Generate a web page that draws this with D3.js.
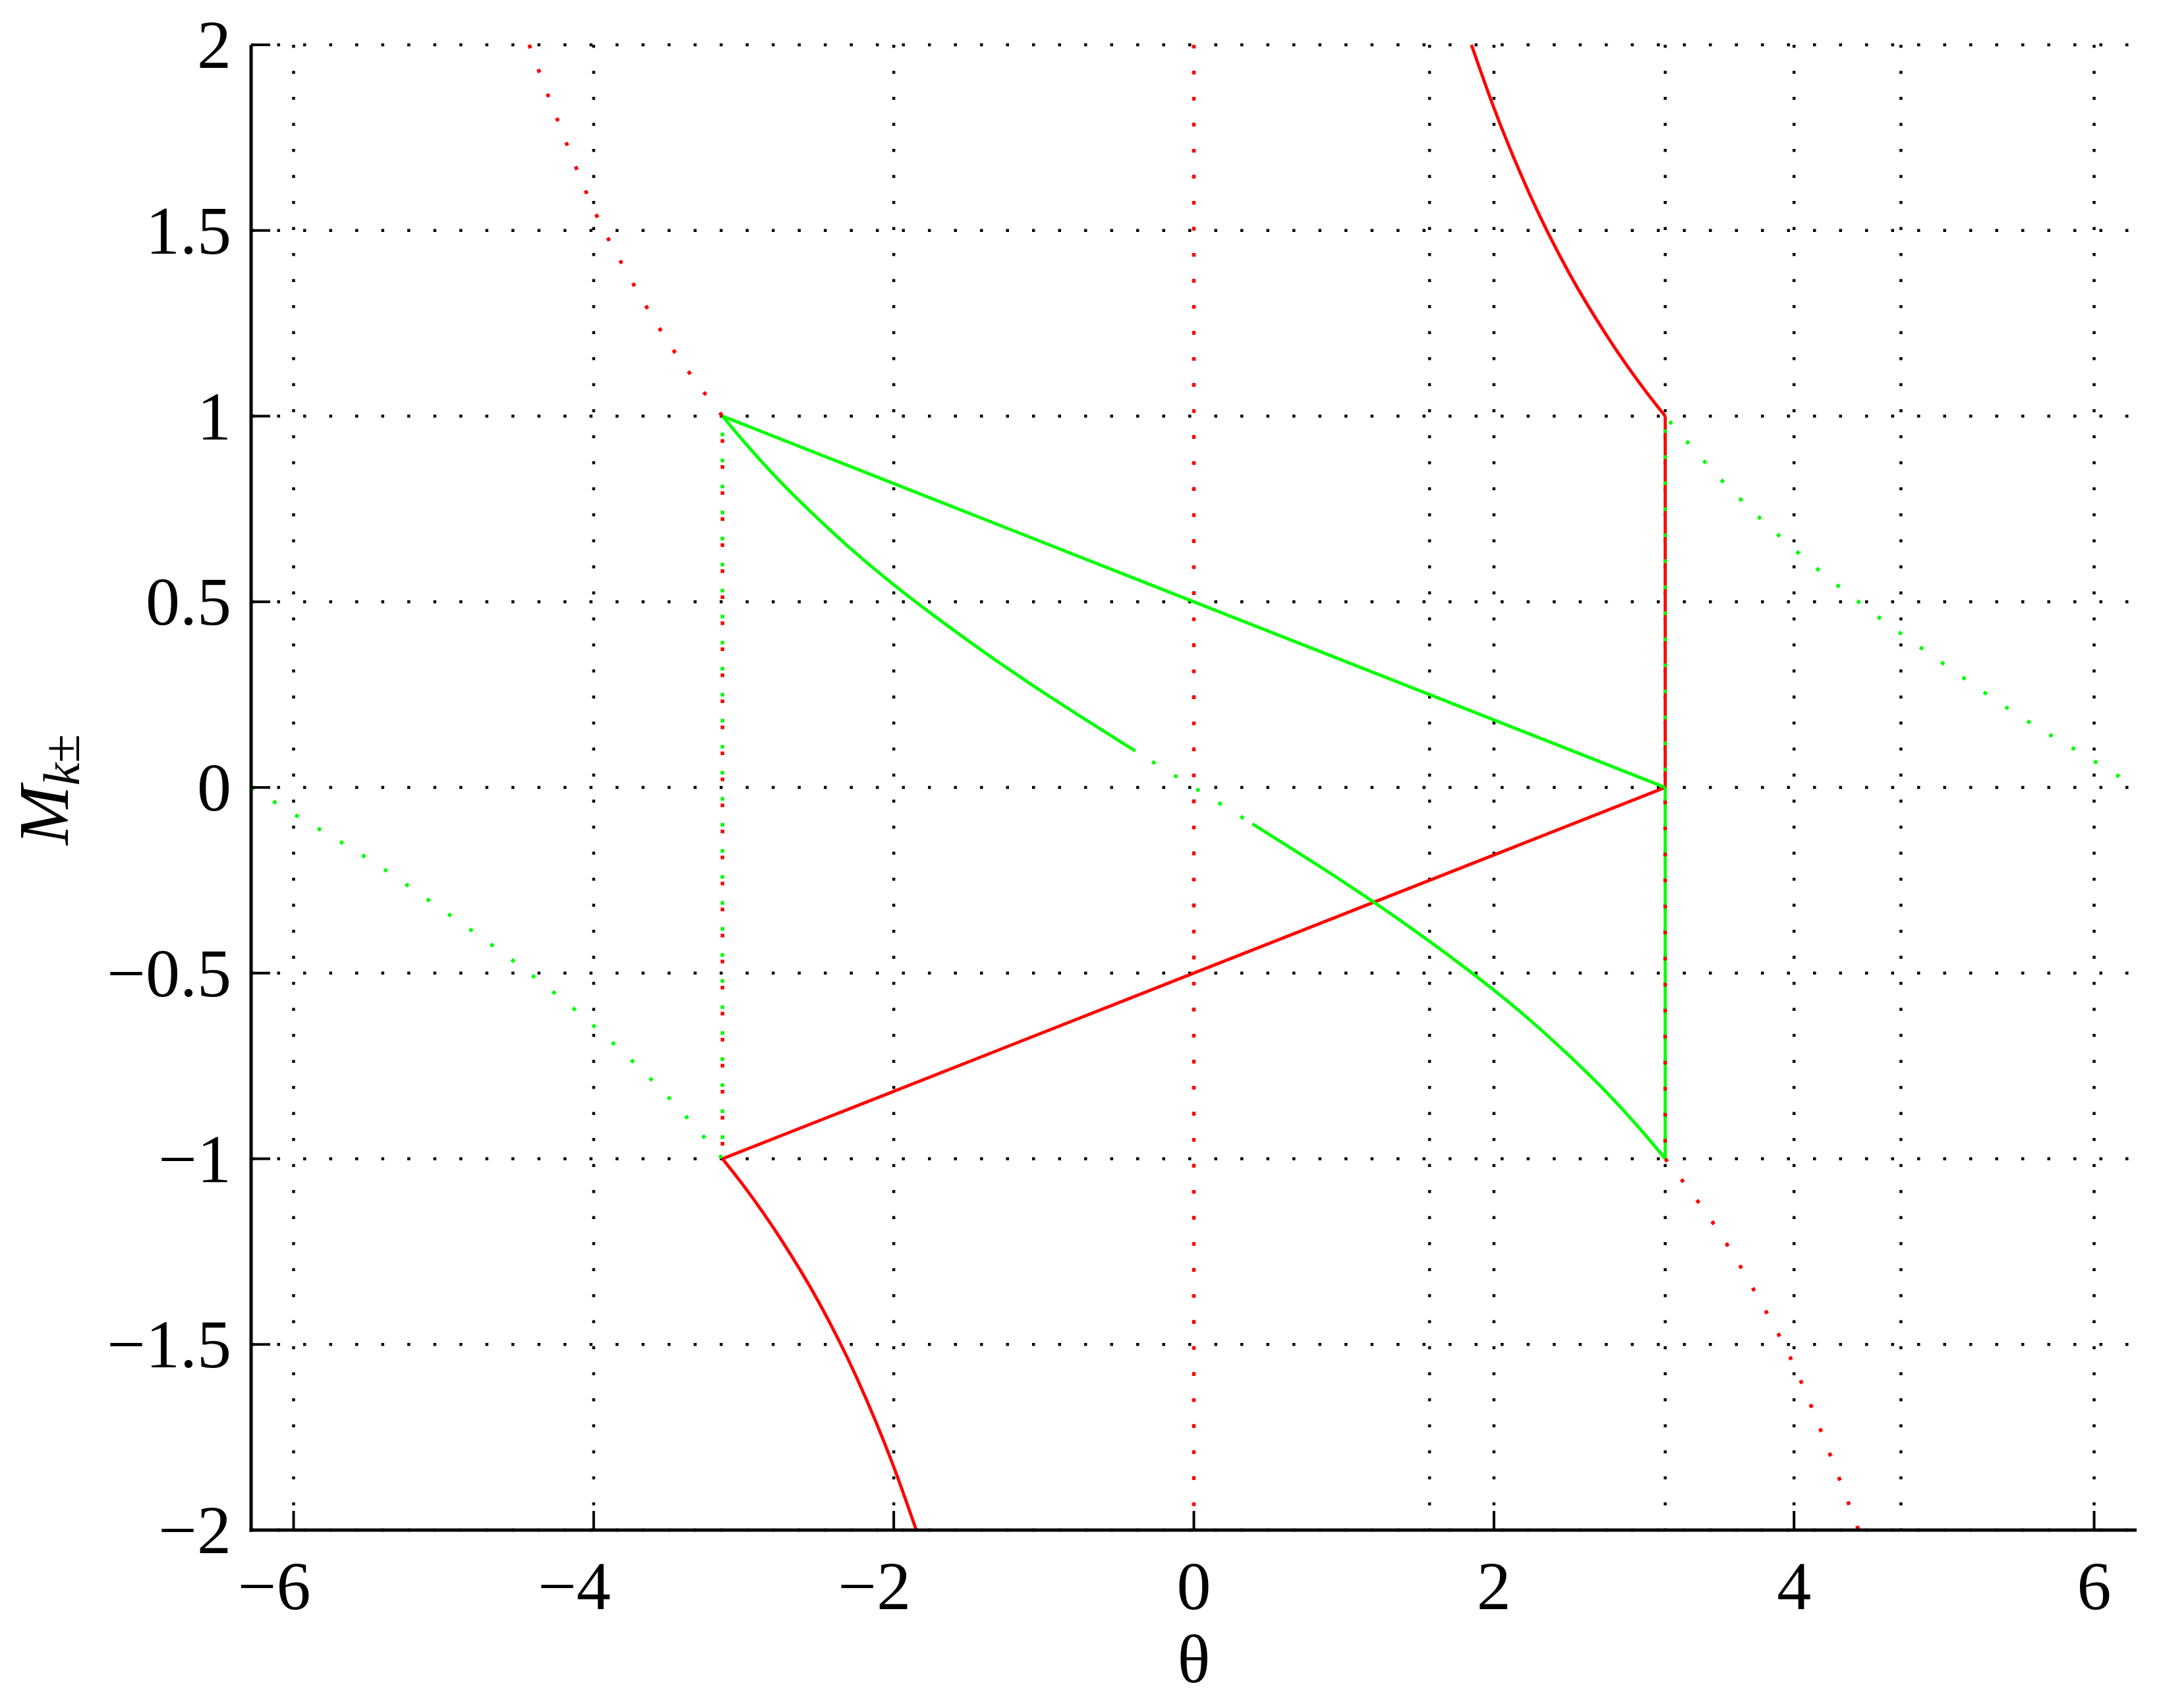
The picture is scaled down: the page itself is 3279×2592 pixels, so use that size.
<!DOCTYPE html>
<html>
<head>
<meta charset="utf-8">
<script src="https://cdn.jsdelivr.net/npm/d3@7/dist/d3.min.js"></script>
<style>
  body { margin: 0; background: #fff; }
  text { font-family: "Liberation Serif", "Times New Roman", serif; fill: #000; }
</style>
</head>
<body>
<svg id="chart"></svg>
<script>
// tick values
var xTicks = [-6, -4, -2, 0, 2, 4, 6];
var yTicks = [-2, -1.5, -1, -0.5, 0, 0.5, 1, 1.5, 2];
var yTickLabels = ["\u22122", "\u22121.5", "\u22121", "\u22120.5", "0", "0.5", "1", "1.5", "2"];

// black dotted markers at pi/2, pi, 3pi/2
var markerTheta = [1.5708, 3.1416, 4.7124];

// red branch (theta, M)
var redUpperSolid = [[1.85, 2.0], [2.0, 1.83], [2.25, 1.587], [2.5, 1.386], [2.75, 1.218], [3.0, 1.073], [3.1416, 1.0]];
var redLowerSolid = [[-3.1416, -1.0], [-3.0, -1.073], [-2.75, -1.218], [-2.5, -1.386], [-2.25, -1.587], [-2.0, -1.83], [-1.85, -2.0]];
var redLine = [[-3.1416, -1.0], [3.1416, 0.0]];
var redVertSolid = [[3.1416, 1.0], [3.1416, 0.0]];
var redUpperLeftDot = [[-4.43, 2.0], [-4.25, 1.807], [-4.0, 1.557], [-3.75, 1.366], [-3.5, 1.197], [-3.25, 1.056], [-3.1416, 1.0]];
var redLowerRightDot = [[3.1416, -1.0], [3.25, -1.056], [3.5, -1.197], [3.75, -1.366], [4.0, -1.557], [4.25, -1.807], [4.43, -2.0]];
var redVertLeftDot = [[-3.1416, 1.0], [-3.1416, -1.0]];
var redVertRightDot = [[3.1416, 0.0], [3.1416, -1.0]];
var redZeroDot = [[0, 2.0], [0, -2.0]];

// green branch (theta, M)
var greenLine = [[-3.1416, 1.0], [3.1416, 0.0]];
var greenCurveLeft = [[-3.1416, 1.0], [-3.0, 0.932], [-2.75, 0.821], [-2.5, 0.722], [-2.25, 0.630], [-2.0, 0.546], [-1.75, 0.468], [-1.5, 0.394], [-1.25, 0.323], [-1.0, 0.255], [-0.75, 0.190], [-0.5, 0.126], [-0.39, 0.098]];
var greenCurveMid = [[-0.39, 0.098], [-0.2, 0.05], [0, 0], [0.2, -0.05], [0.39, -0.098]];
var greenCurveRight = [[0.39, -0.098], [0.5, -0.126], [0.75, -0.190], [1.0, -0.255], [1.25, -0.323], [1.5, -0.394], [1.75, -0.468], [2.0, -0.546], [2.25, -0.630], [2.5, -0.722], [2.75, -0.821], [3.0, -0.932], [3.1416, -1.0]];
var greenVertSolid = [[3.1416, 0.0], [3.1416, -1.0]];
var greenVertRightDot = [[3.1416, 1.0], [3.1416, 0.0]];
var greenVertLeftDot = [[-3.1416, 1.0], [-3.1416, -1.0]];
var greenUpperRightDot = [[3.1416, 1.0], [3.5, 0.835], [4.0, 0.642], [4.5, 0.478], [5.0, 0.332], [5.5, 0.193], [6.0, 0.071], [6.2832, 0.0]];
var greenLowerLeftDot = [[-6.2832, 0.0], [-6.0, -0.071], [-5.5, -0.193], [-5.0, -0.332], [-4.5, -0.478], [-4.0, -0.642], [-3.5, -0.835], [-3.1416, -1.0]];

var W = 3279, H = 2592;
var RED = "#ff0000", GREEN = "#00ff00";

var svg = d3.select("#chart").attr("width", W).attr("height", H);
svg.append("rect").attr("width", W).attr("height", H).attr("fill", "#fff");

var x = d3.scaleLinear().domain([-2 * Math.PI, 2 * Math.PI]).range([381, 3242]);
var y = d3.scaleLinear().domain([-2, 2]).range([2322, 68]);

// grid (dotted)
var grid = svg.append("g");
grid.selectAll(".gx").data(xTicks).join("line")
    .attr("x1", d => x(d)).attr("x2", d => x(d))
    .attr("y1", y(2)).attr("y2", y(-2))
    .attr("stroke", "#000").attr("stroke-width", 4.5)
    .attr("stroke-dasharray", "4.5 35");
grid.selectAll(".gy").data(yTicks).join("line")
    .attr("x1", x.range()[0]).attr("x2", x.range()[1])
    .attr("y1", d => y(d)).attr("y2", d => y(d))
    .attr("stroke", "#000").attr("stroke-width", 4.5)
    .attr("stroke-dasharray", "4.5 35");

// black dotted vertical markers
svg.append("g").selectAll("line").data(markerTheta).join("line")
    .attr("x1", d => x(d)).attr("x2", d => x(d))
    .attr("y1", y(2)).attr("y2", y(-2))
    .attr("stroke", "#000").attr("stroke-width", 4.5)
    .attr("stroke-dasharray", "4.5 35");

var lineLin = d3.line().x(d => x(d[0])).y(d => y(d[1]));
var lineSmooth = d3.line().x(d => x(d[0])).y(d => y(d[1])).curve(d3.curveMonotoneX);

var segments = [
  // solid pieces
  { d: redUpperSolid, c: RED, dot: false, smooth: true },
  { d: redLowerSolid, c: RED, dot: false, smooth: true },
  { d: redLine, c: RED, dot: false },
  { d: redVertSolid, c: RED, dot: false },
  { d: greenLine, c: GREEN, dot: false },
  { d: greenCurveLeft, c: GREEN, dot: false, smooth: true },
  { d: greenCurveRight, c: GREEN, dot: false, smooth: true },
  { d: greenVertSolid, c: GREEN, dot: false },
  // dotted pieces
  { d: redZeroDot, c: RED, dot: true },
  { d: redUpperLeftDot, c: RED, dot: true, smooth: true },
  { d: redLowerRightDot, c: RED, dot: true, smooth: true },
  { d: redVertLeftDot, c: RED, dot: true, off: -35 },
  { d: redVertRightDot, c: RED, dot: true, off: -20 },
  { d: greenCurveMid, c: GREEN, dot: true, smooth: true, off: -30 },
  { d: greenVertLeftDot, c: GREEN, dot: true, off: -25 },
  { d: greenVertRightDot, c: GREEN, dot: true, off: -20 },
  { d: greenUpperRightDot, c: GREEN, dot: true, smooth: true, off: -10 },
  { d: greenLowerLeftDot, c: GREEN, dot: true, smooth: true }
];

svg.append("g").selectAll("path").data(segments).join("path")
    .attr("d", s => (s.smooth ? lineSmooth : lineLin)(s.d))
    .attr("fill", "none")
    .attr("stroke", s => s.c)
    .attr("stroke-width", s => s.dot ? 5.5 : 4.8)
    .attr("stroke-dasharray", s => s.dot ? "5.5 34" : null)
    .attr("stroke-dashoffset", s => s.off || 0);

// axes (box off, ticks inward)
var ax = svg.append("g").attr("stroke", "#000");
ax.append("line").attr("x1", x.range()[0]).attr("x2", x.range()[0])
    .attr("y1", y(2)).attr("y2", y(-2) + 2.5).attr("stroke-width", 5);
ax.append("line").attr("x1", x.range()[0] - 2.5).attr("x2", x.range()[1])
    .attr("y1", y(-2)).attr("y2", y(-2)).attr("stroke-width", 5);
ax.selectAll(".tx").data(xTicks).join("line")
    .attr("x1", d => x(d)).attr("x2", d => x(d))
    .attr("y1", y(-2)).attr("y2", y(-2) - 29).attr("stroke-width", 4);
ax.selectAll(".ty").data(yTicks).join("line")
    .attr("x1", x.range()[0]).attr("x2", x.range()[0] + 29)
    .attr("y1", d => y(d)).attr("y2", d => y(d)).attr("stroke-width", 4);

// x tick labels: digit centred on tick, minus hanging to the left
var xl = svg.append("g").attr("font-size", 104);
xl.selectAll(".num").data(xTicks).join("text")
    .attr("x", d => x(d)).attr("y", 2442)
    .attr("text-anchor", "middle")
    .text(d => String(Math.abs(d)));
xl.selectAll(".neg").data(xTicks.filter(d => d < 0)).join("text")
    .attr("x", d => x(d) - 26).attr("y", 2442)
    .attr("text-anchor", "end")
    .text("\u2212");

// y tick labels
svg.append("g").attr("font-size", 104).selectAll("text").data(yTicks).join("text")
    .attr("x", 351).attr("y", d => y(d) + 35)
    .attr("text-anchor", "end")
    .text((d, i) => yTickLabels[i]);

// axis labels
svg.append("text").attr("x", x(0)).attr("y", 2553)
    .attr("text-anchor", "middle").attr("font-size", 104)
    .text("\u03b8");

var yl = svg.append("text")
    .attr("transform", "translate(103,1198) rotate(-90)")
    .attr("text-anchor", "middle");
yl.append("tspan").attr("font-size", 108).attr("font-style", "italic").text("M");
yl.append("tspan").attr("font-size", 78).attr("font-style", "italic").attr("dy", 17).text("k");
yl.append("tspan").attr("font-size", 80).text("\u00b1");
</script>
</body>
</html>
